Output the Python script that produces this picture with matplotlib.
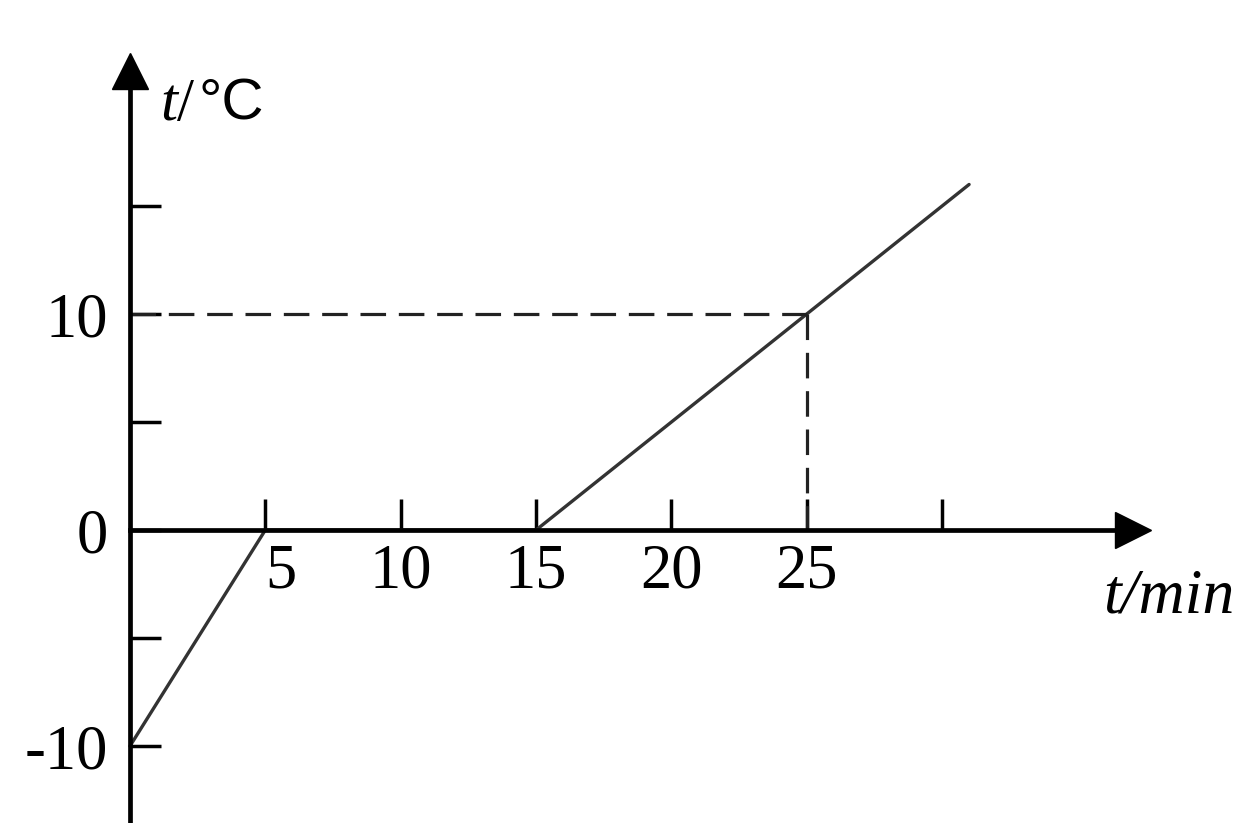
import matplotlib
matplotlib.use("Agg")
import matplotlib.pyplot as plt

# -------- DATA --------
time_min = [0, 5, 15, 31]
temp_c = [-10, 0, 0, 16]

mark_time = 25
mark_temp = 10

x_ticks = [5, 10, 15, 20, 25, 30]
x_labels = ["5", "10", "15", "20", "25", ""]
y_ticks = [-10, -5, 0, 5, 10, 15]
y_labels = ["-10", "", "0", "", "10", ""]

# -------- STYLE --------
plt.rcParams["font.family"] = ["Liberation Serif", "DejaVu Serif"]
plt.rcParams["mathtext.fontset"] = "custom"
plt.rcParams["mathtext.rm"] = "Liberation Serif"
plt.rcParams["mathtext.it"] = "Liberation Serif:italic"

fig = plt.figure(figsize=(12.36, 8.23), dpi=100)
ax = fig.add_axes([0, 0, 1, 1])

ax.set_xlim(-4.80, 40.86)
ax.set_ylim(-13.56, 24.54)

# axes through origin
for side in ["top", "right"]:
    ax.spines[side].set_visible(False)
ax.spines["left"].set_position(("data", 0))
ax.spines["bottom"].set_position(("data", 0))
ax.spines["left"].set_bounds(-13.56, 21.5)
ax.spines["bottom"].set_bounds(0, 37.2)
ax.spines["left"].set_linewidth(3.4)
ax.spines["bottom"].set_linewidth(3.4)

# arrow heads
ax.plot(37.05, 0, marker=">", ms=26, color="black", clip_on=False)
ax.plot(0, 21.25, marker="^", ms=26, color="black", clip_on=False)

# ticks
ax.set_xticks(x_ticks, x_labels)
ax.set_yticks(y_ticks, y_labels)
ax.tick_params(axis="x", direction="in", length=22, width=2.5, labelsize=45, pad=10)
ax.tick_params(axis="y", direction="in", length=22, width=2.5, labelsize=45, pad=16)
ax.get_xticklabels()[0].set_horizontalalignment("left")

# -------- CURVE --------
ax.plot(time_min, temp_c, color="#333333", lw=2.4, solid_capstyle="round")

# dashed guides
ax.plot([0, mark_time], [mark_temp, mark_temp], color="#222222", lw=2.3, dashes=(8, 4))
ax.plot([mark_time, mark_time], [mark_temp, 0], color="#222222", lw=2.3, dashes=(8, 4))

# -------- AXIS LABELS --------
ax.text(1.1, 19.0, r"$t$/", fontsize=44, ha="left", va="baseline")
ax.text(2.55, 19.0, "°C", fontsize=42, ha="left", va="baseline",
        family=["Liberation Sans", "DejaVu Sans"])
ax.text(40.8, -3.8, "t/min", fontsize=46, fontstyle="italic", ha="right", va="baseline")

fig.savefig("out.png", dpi=100)
